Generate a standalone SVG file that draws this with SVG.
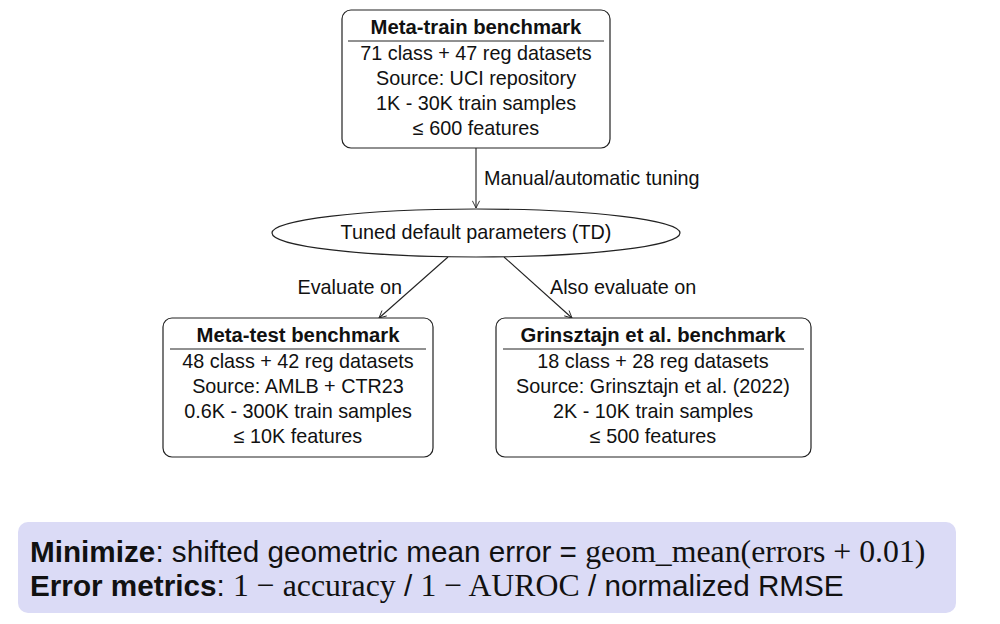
<svg xmlns="http://www.w3.org/2000/svg" width="1000" height="624" viewBox="0 0 1000 624">
<defs>
<marker id="arr" viewBox="0 0 10 10" refX="9" refY="5" markerWidth="9" markerHeight="9" orient="auto" markerUnits="userSpaceOnUse">
<path d="M1,1 L9,5 L1,9" fill="none" stroke="#222" stroke-width="1"/>
</marker>
<style>
.box{fill:#fff;stroke:#222;stroke-width:1.2}
.sep{stroke:#222;stroke-width:1}
.t{font-family:"Liberation Sans",Arial,sans-serif;font-size:19.8px;fill:#111;text-anchor:middle}
.b{font-weight:bold;font-size:20.3px}
.lbl{font-family:"Liberation Sans",Arial,sans-serif;font-size:19.8px;fill:#111}
.edge{stroke:#222;stroke-width:1.1;fill:none;marker-end:url(#arr)}
.big{font-family:"Liberation Sans",Arial,sans-serif;font-size:29.7px;fill:#111}
.m{font-family:"Liberation Serif","Times New Roman",serif;font-size:31.8px}
</style>
</defs>
<g id="connectors">
<line class="edge" x1="476" y1="148" x2="476" y2="208"/>
<line class="edge" x1="448" y1="257" x2="379" y2="318"/>
<line class="edge" x1="504" y1="257" x2="572" y2="318"/>
<text class="lbl" x="484" y="185">Manual/automatic tuning</text>
<text class="lbl" x="402" y="294" text-anchor="end">Evaluate on</text>
<text class="lbl" x="550" y="294">Also evaluate on</text>
</g>
<g id="meta-train">
<rect class="box" x="342" y="10" width="268" height="138" rx="9"/>
<text class="t b" x="476" y="34">Meta-train benchmark</text>
<line class="sep" x1="348" y1="41" x2="604" y2="41"/>
<text class="t" x="476" y="60">71 class + 47 reg datasets</text>
<text class="t" x="476" y="85">Source: UCI repository</text>
<text class="t" x="476" y="110">1K - 30K train samples</text>
<text class="t" x="476" y="135">≤ 600 features</text>
</g>
<g id="td">
<ellipse cx="476" cy="233" rx="204" ry="24" fill="#fff" stroke="#222" stroke-width="1.2"/>
<text class="t" x="476" y="239">Tuned default parameters (TD)</text>
</g>
<g id="meta-test">
<rect class="box" x="163" y="318" width="270" height="139" rx="9"/>
<text class="t b" x="298" y="342">Meta-test benchmark</text>
<line class="sep" x1="170" y1="349" x2="426" y2="349"/>
<text class="t" x="298" y="368">48 class + 42 reg datasets</text>
<text class="t" x="298" y="393">Source: AMLB + CTR23</text>
<text class="t" x="298" y="418">0.6K - 300K train samples</text>
<text class="t" x="298" y="443">≤ 10K features</text>
</g>
<g id="grinsztajn">
<rect class="box" x="496" y="318" width="315" height="139" rx="9"/>
<text class="t b" x="653" y="342">Grinsztajn et al. benchmark</text>
<line class="sep" x1="503" y1="349" x2="804" y2="349"/>
<text class="t" x="653" y="368">18 class + 28 reg datasets</text>
<text class="t" x="653" y="393">Source: Grinsztajn et al. (2022)</text>
<text class="t" x="653" y="418">2K - 10K train samples</text>
<text class="t" x="653" y="443">≤ 500 features</text>
</g>
<g id="summary">
<rect x="18" y="522" width="938" height="91" rx="10" fill="#dbdbf6"/>
<text class="big" x="30" y="562"><tspan font-weight="bold">Minimize</tspan>: shifted geometric mean error = <tspan class="m">geom_mean(errors + 0.01)</tspan></text>
<text class="big" x="30" y="596"><tspan font-weight="bold">Error metrics</tspan>: <tspan class="m">1 − accuracy</tspan> / <tspan class="m">1 − AUROC</tspan> / normalized RMSE</text>
</g>
</svg>
